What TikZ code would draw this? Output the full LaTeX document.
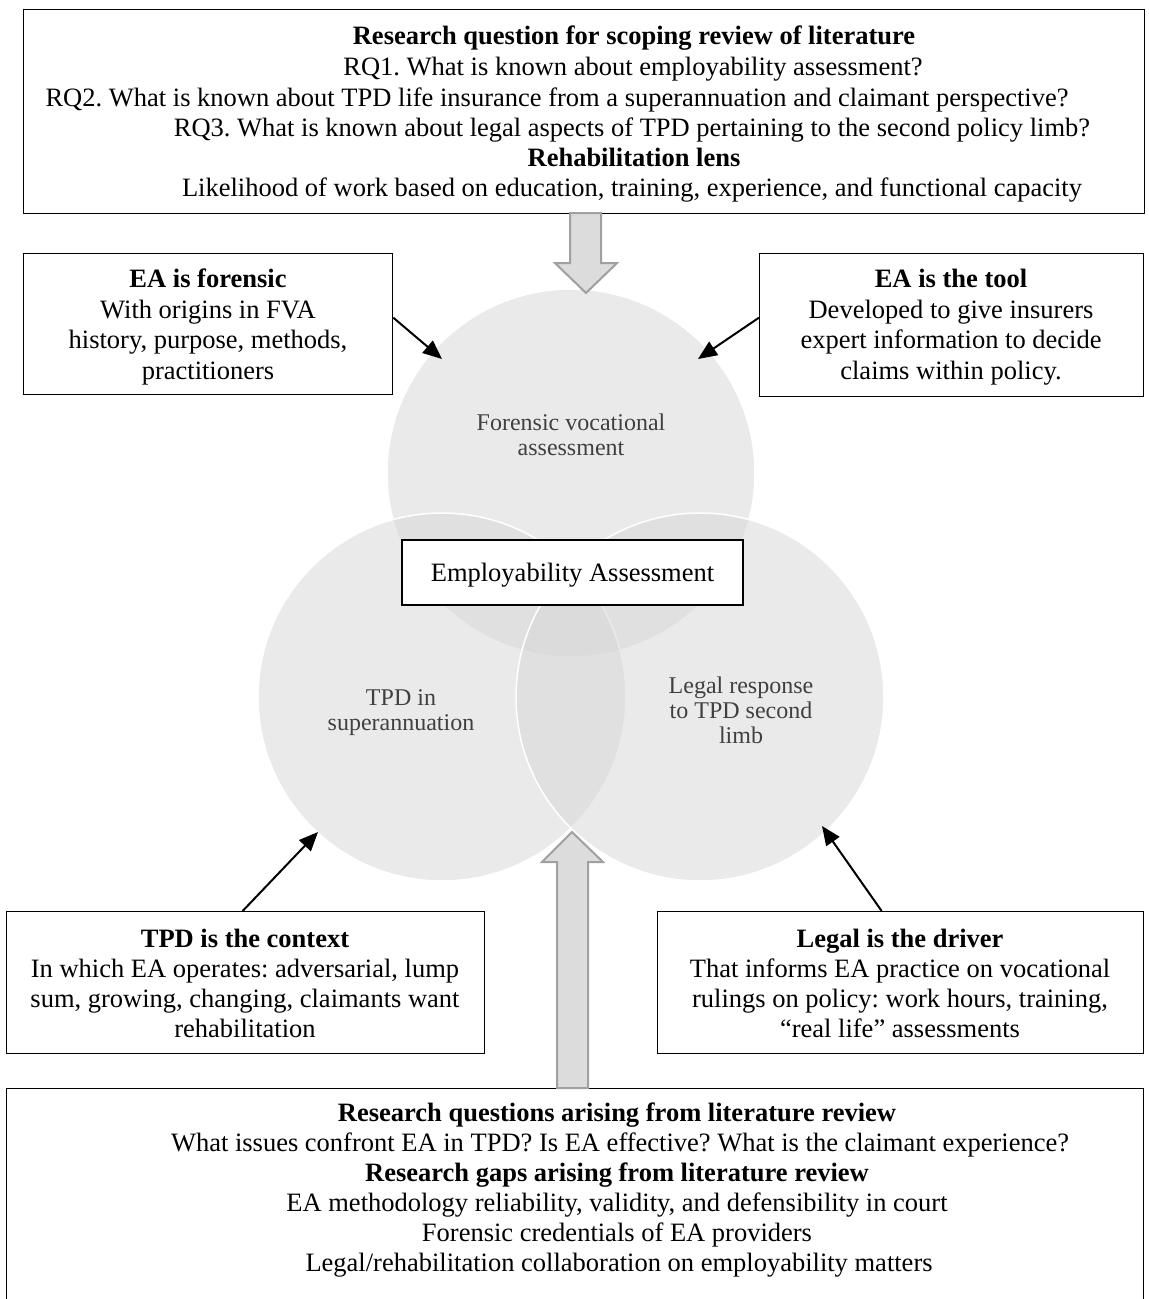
\documentclass[tikz,border=0pt]{standalone}
\usepackage{fontspec}
\setmainfont{Liberation Serif}
\usetikzlibrary{arrows.meta,shapes.geometric}
\definecolor{venngray}{RGB}{215,215,215}
\definecolor{arrowfill}{RGB}{220,220,220}
\definecolor{arrowline}{RGB}{160,160,160}
\definecolor{circtext}{RGB}{64,64,64}
\tikzset{
  box/.style={draw=black, line width=1.3pt, fill=white, inner sep=0pt},
  txt/.style={anchor=base, inner sep=0pt, font=\fontsize{26.5}{30.5}\selectfont},
  btxt/.style={anchor=base, inner sep=0pt, font=\fontsize{26.5}{30.5}\selectfont\bfseries},
  ctxt/.style={anchor=base, inner sep=0pt, font=\fontsize{24}{25}\selectfont, text=circtext},
  venn/.style={fill=venngray, fill opacity=0.5, draw=white, line width=1.5pt, inner sep=0pt},
  ptr/.style={line width=2pt, -{Triangle[length=19pt,width=16pt]}},
  bigarrow/.style={fill=arrowfill, draw=arrowline, line width=2pt, line join=miter},
}
\frenchspacing
\begin{document}
\begin{tikzpicture}[x=1pt,y=-1pt]
\useasboundingbox (0,0) rectangle (1149,1299);
\fill[white] (0,0) rectangle (1149,1299);

% Venn circles
\node[venn, circle, minimum size=368pt] (ctop) at (571,473) {};
\node[venn, circle, minimum size=368pt] (cleft) at (442,697) {};
\node[venn, circle, minimum size=368pt] (cright) at (700,697) {};

\node[ctxt] (fva1) at (571,430) {Forensic vocational};
\node[ctxt] (fva2) at (571,455) {assessment};
\node[ctxt] (tpd1) at (401,705) {TPD in};
\node[ctxt] (tpd2) at (401,730) {superannuation};
\node[ctxt] (leg1) at (741,693) {Legal response};
\node[ctxt] (leg2) at (741,718) {to TPD second};
\node[ctxt] (leg3) at (741,743) {limb};

% central label
\node[box, minimum width=341pt, minimum height=65pt] (ea) at (572.5,572.5) {};
\node[txt] (eatxt) at (572.5,581) {Employability Assessment};

% top box
\node[box, minimum width=1121pt, minimum height=204pt, anchor=north west] (topbox) at (23,9) {};
\node[btxt] (t1) at (634,44) {Research question for scoping review of literature};
\node[txt] (t2) at (633,75) {RQ1. What is known about employability assessment?};
\node[txt] (t3) at (557,106) {RQ2. What is known about TPD life insurance from a superannuation and claimant perspective?};
\node[txt] (t4) at (632,136) {RQ3. What is known about legal aspects of TPD pertaining to the second policy limb?};
\node[btxt] (t5) at (634,166) {Rehabilitation lens};
\node[txt] (t6) at (632,196) {Likelihood of work based on education, training, experience, and functional capacity};

% side boxes upper
\node[box, minimum width=369pt, minimum height=141pt, anchor=north west] (eaf) at (23,253) {};
\node[btxt] (eaf1) at (208,287) {EA is forensic};
\node[txt] (eaf2) at (208,318) {With origins in FVA};
\node[txt] (eaf3) at (208,348) {history, purpose, methods,};
\node[txt] (eaf4) at (208,379) {practitioners};

\node[box, minimum width=384pt, minimum height=143pt, anchor=north west] (eat) at (759,253) {};
\node[btxt] (eat1) at (951,287) {EA is the tool};
\node[txt] (eat2) at (951,318) {Developed to give insurers};
\node[txt] (eat3) at (951,348) {expert information to decide};
\node[txt] (eat4) at (951,379) {claims within policy.};

% side boxes lower
\node[box, minimum width=478pt, minimum height=142pt, anchor=north west] (tpdc) at (6,911) {};
\node[btxt] (tpdc1) at (245,947) {TPD is the context};
\node[txt] (tpdc2) at (245,977) {In which EA operates: adversarial, lump};
\node[txt] (tpdc3) at (245,1007) {sum, growing, changing, claimants want};
\node[txt] (tpdc4) at (245,1037) {rehabilitation};

\node[box, minimum width=486pt, minimum height=142pt, anchor=north west] (legd) at (657,911) {};
\node[btxt] (legd1) at (900,947) {Legal is the driver};
\node[txt] (legd2) at (900,977) {That informs EA practice on vocational};
\node[txt] (legd3) at (900,1007) {rulings on policy: work hours, training,};
\node[txt] (legd4) at (900,1037) {``real life'' assessments};

% bottom box
\node[box, minimum width=1137pt, minimum height=240pt, anchor=north west] (botbox) at (6,1088) {};
\node[btxt] (b1) at (617,1121) {Research questions arising from literature review};
\node[txt] (b2) at (620,1151) {What issues confront EA in TPD? Is EA effective? What is the claimant experience?};
\node[btxt] (b3) at (617,1181) {Research gaps arising from literature review};
\node[txt] (b4) at (617,1211) {EA methodology reliability, validity, and defensibility in court};
\node[txt] (b5) at (617,1241) {Forensic credentials of EA providers};
\node[txt] (b6) at (619,1271) {Legal/rehabilitation collaboration on employability matters};

% big arrows
\draw[bigarrow] (570,213) -- (570,263) -- (555,263) -- (586,293) -- (617,263) -- (601,263) -- (601,213) -- cycle;
\draw[bigarrow] (557,1088) -- (557,862) -- (542,862) -- (572,832) -- (603,862) -- (588,862) -- (588,1088) -- cycle;

% pointer arrows
\coordinate (pf) at (442,359);
\coordinate (pt) at (698,359);
\coordinate (pc) at (318,832);
\coordinate (pl) at (822,826);
\draw[ptr] ([yshift=6.5pt]eaf.east) -- (pf);
\draw[ptr] ([yshift=7.5pt]eat.west) -- (pt);
\draw[ptr] ([xshift=-3pt]tpdc.north) -- (pc);
\draw[ptr] ([xshift=-19pt]legd.north) -- (pl);
\end{tikzpicture}
\end{document}
